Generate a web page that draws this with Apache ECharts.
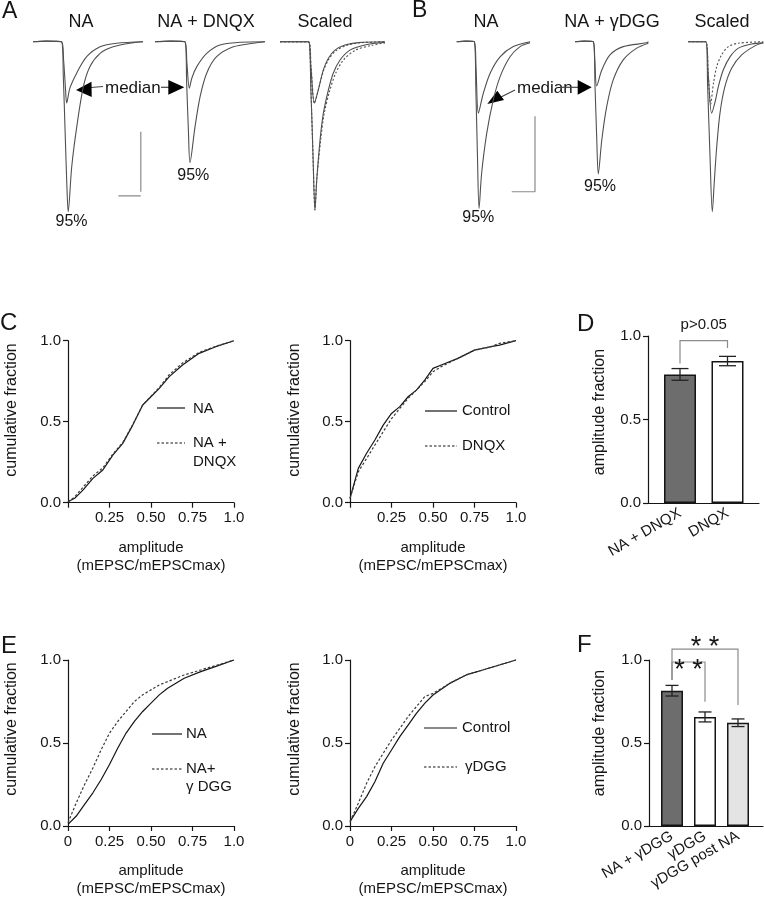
<!DOCTYPE html>
<html><head><meta charset="utf-8">
<script src="https://cdn.jsdelivr.net/npm/echarts/dist/echarts.min.js"></script>
<style>html,body{margin:0;padding:0;background:#fff}#chart{width:764px;height:899px}</style>
</head><body><div id="chart"></div>
<script>
// ---------------- DATA ----------------
// Panel A traces: [time (ms), current (pA)]
const A_NA_median = [[0,0],[6,0.2],[13,0],[13.9,-6],[14.8,-16],[15.3,-20.4],[16.8,-15.4],[19.9,-10.4],[24.4,-5.0],[30.5,-1.7],[38.0,-0.5],[50,0]];
const A_NA_95 = [[0,0],[6,0.2],[13,0],[13.8,-12],[14.6,-30],[15.4,-48],[16.0,-56.7],[17.6,-41.7],[19.9,-28.3],[22.9,-15],[25.9,-8.3],[30.5,-3.9],[36.4,-1.7],[45.5,-0.3],[50,0]];
const A_DNQX_median = [[0,0],[7,0.2],[13.6,0],[14.5,-7],[15.6,-15.5],[16.8,-12],[19.0,-8.3],[23.5,-3.9],[29.5,-1.1],[38.6,-0.2],[50,0]];
const A_DNQX_95 = [[0,0],[7,0.2],[13.6,0],[14.4,-14],[15.2,-30],[15.9,-40.3],[18.2,-28.3],[20.5,-18.3],[23.5,-10.5],[28,-5],[35.6,-1.7],[44.7,-0.5],[50,0]];
const A_SC_NA_median = [[0,0],[12.9,0],[14.0,-8],[15.6,-20.5],[17.4,-16.1],[19.7,-9.4],[22,-5.5],[25,-2.8],[29.5,-1.1],[35.6,-0.3],[47.7,0]];
const A_SC_NA_95 = [[0,0],[12.9,0],[14.0,-15],[15.0,-38],[15.9,-56.1],[16.7,-46.1],[18.2,-32.8],[19.7,-23.9],[22,-16.1],[24.2,-10.5],[27.3,-6.1],[31.8,-2.8],[38.6,-1.1],[47.7,-0.2]];
const A_SC_DNQX_median = [[0,0],[13.0,0],[14.1,-8],[15.7,-20.5],[17.5,-15.8],[19.8,-9.6],[22.2,-5.8],[25.3,-3.1],[30,-1.3],[36,-0.4],[47.7,0]];
const A_SC_DNQX_95 = [[0,0],[13.0,0],[14.0,-15],[15.0,-38],[15.9,-56.1],[16.7,-46.1],[18.5,-32.8],[20.1,-23.9],[22.7,-16.1],[25.3,-10.5],[28.8,-6.1],[34.1,-2.9],[41.7,-1.2],[47.7,-0.4]];
const A_scaleBar = [[38.8,-51.4],[49.0,-51.4],[null,null],[49.0,-50],[49.0,-30]]; // 10 ms, 20 pA

// Panel B traces
const B_NA_median = [[0,0],[4,0.15],[7.55,0],[8.3,-7],[9.3,-18.9],[11.4,-13.7],[14.3,-8.4],[18.6,-4.0],[24.3,-1.3],[31.5,0]];
const B_NA_95 = [[0,0],[4,0.15],[7.55,0],[8.2,-12],[8.9,-30],[9.6,-44.1],[10.7,-34.8],[12.9,-24.2],[15.7,-15.4],[18.6,-9.3],[22.9,-4.0],[27.2,-1.3],[31.5,-0.3]];
const B_DGG_median = [[0,0],[4,0.15],[7.85,0],[8.5,-5],[9.3,-11.7],[11.5,-7.5],[15,-3.5],[20.7,-1.3],[30.8,-0.3],[31.5,0]];
const B_DGG_95 = [[0,0],[4,0.15],[7.85,0],[8.6,-12],[9.3,-25],[10.0,-35],[11.5,-26],[13.6,-17.2],[16.4,-10.1],[20.7,-4.8],[26.5,-1.7],[31.5,-0.4]];
const B_SC_NA_median = [[0,0],[7.5,0],[8.5,-8],[10.0,-18.9],[11.5,-15.9],[12.9,-11.9],[15.0,-7.5],[17.9,-4.0],[21.5,-1.7],[27.2,-0.6],[32.2,-0.3]];
const B_SC_NA_95 = [[0,0],[7.5,0],[8.3,-12],[9.3,-30],[10.3,-45],[11.2,-36.6],[12.2,-27.8],[13.6,-18.9],[15.7,-11.9],[18.6,-7.0],[22.9,-3.5],[28.6,-1.1],[32.2,-0.3]];
const B_SC_DGG_median = [[0,0],[7.5,0],[8.5,-8],[9.6,-16.5],[10.8,-11],[12.2,-6.6],[14.3,-3.5],[17.2,-1.3],[21.5,-0.4],[32.2,0]];
const B_scaleBar = [[23.6,-39.7],[33.6,-39.7],[33.6,-19.7]];

// Panel C cumulative curves
const C1_x = [0,0.04,0.09,0.15,0.21,0.27,0.33,0.39,0.45,0.51,0.55,0.61,0.69,0.79,0.89,1.0];
const C1_NA = [0.006,0.027,0.078,0.150,0.202,0.294,0.366,0.479,0.603,0.665,0.706,0.778,0.850,0.922,0.963,1.0];
const C1_NA_DNQX = [0.006,0.035,0.095,0.165,0.215,0.300,0.372,0.482,0.603,0.668,0.712,0.790,0.862,0.928,0.965,1.0];
const C2_x = [0,0.05,0.10,0.15,0.20,0.25,0.30,0.35,0.40,0.45,0.50,0.55,0.65,0.75,0.85,0.90,1.0];
const C2_Control = [0.027,0.212,0.305,0.387,0.479,0.551,0.593,0.654,0.695,0.757,0.829,0.850,0.891,0.942,0.963,0.973,1.0];
const C2_DNQX = [0.027,0.191,0.273,0.356,0.438,0.519,0.582,0.644,0.695,0.747,0.809,0.840,0.891,0.942,0.963,0.984,1.0];

// Panel D bars
const D_categories = ['NA + DNQX','DNQX'];
const D_means = [0.77,0.85];
const D_errors = [0.035,0.028];
const D_brackets = [[0,1,0.972,0.836,0.928,1.066]]; // from, to, top, left end, right end, label centre
const D_bracketLabels = ['p>0.05'];

// Panel E cumulative curves
const E1_x = [0,0.05,0.10,0.15,0.20,0.25,0.30,0.35,0.40,0.45,0.50,0.55,0.60,0.70,0.80,0.90,1.0];
const E1_NA = [0.01,0.06,0.13,0.20,0.28,0.37,0.47,0.56,0.63,0.69,0.74,0.79,0.83,0.89,0.93,0.965,1.0];
const E1_NA_DGG = [0.02,0.14,0.25,0.35,0.46,0.56,0.63,0.69,0.75,0.79,0.82,0.85,0.87,0.91,0.94,0.97,1.0];
const E2_x = [0,0.05,0.10,0.15,0.20,0.25,0.30,0.35,0.40,0.45,0.50,0.60,0.70,0.80,0.90,1.0];
const E2_Control = [0.026,0.106,0.177,0.267,0.378,0.458,0.538,0.608,0.679,0.739,0.789,0.859,0.910,0.940,0.970,1.0];
const E2_DGG = [0.026,0.137,0.257,0.357,0.438,0.518,0.588,0.659,0.719,0.779,0.799,0.859,0.910,0.940,0.970,1.0];

// Panel F bars
const F_categories = ['NA + \u03b3DGG','\u03b3DGG','\u03b3DGG post NA'];
const F_means = [0.815,0.657,0.622];
const F_errors = [0.032,0.030,0.023];
const F_brackets = [[0,2,1.066,0.88,0.729,1.114],[0,1,0.988,0.88,0.749,0.975]];
const F_bracketLabels = ['* *','* *'];

// ---------------- BUILD ----------------
const FONT = '"Liberation Sans", Arial, Helvetica, sans-serif';
const INK = '#151515';
const grids = [], xAxes = [], yAxes = [], series = [];
function addGrid(g, xa, ya) {
  grids.push(Object.assign({outerBoundsMode:'none', containLabel:false}, g));
  const i = grids.length - 1;
  xAxes.push(Object.assign({gridIndex:i}, xa));
  yAxes.push(Object.assign({gridIndex:i}, ya));
  return i;
}
function traceGrid(left, top, tMax, aMin, pxMs, pxPa, traces) {
  const i = addGrid({left, top, width:tMax*pxMs, height:-aMin*pxPa},
    {type:'value', min:0, max:tMax, show:false}, {type:'value', min:aMin, max:0, show:false});
  traces.forEach(tr => series.push({type:'line', xAxisIndex:i, yAxisIndex:i, data:tr.d, symbol:'none',
    smooth:tr.bar ? false : 0.3, connectNulls:false, clip:false, silent:true, z: tr.dash ? 3 : 2,
    lineStyle:{color: tr.bar ? '#8a8a8a' : '#505050', width: tr.bar ? 1.2 : 1.1, type: tr.dash ? [2,2] : 'solid'}}));
}
traceGrid(33, 41.7, 50, -60, 2.2, 3, [{d:A_NA_median},{d:A_NA_95},{d:A_scaleBar, bar:true}]);
traceGrid(155, 41.7, 50, -60, 2.2, 3, [{d:A_DNQX_median},{d:A_DNQX_95}]);
traceGrid(280, 41.7, 50, -60, 2.2, 3, [{d:A_SC_NA_median},{d:A_SC_NA_95},{d:A_SC_DNQX_median, dash:true},{d:A_SC_DNQX_95, dash:true}]);
traceGrid(456.7, 41.7, 35, -50, 2.33, 3.78, [{d:B_NA_median},{d:B_NA_95},{d:B_scaleBar, bar:true}]);
traceGrid(575, 41.7, 35, -50, 2.33, 3.78, [{d:B_DGG_median},{d:B_DGG_95}]);
traceGrid(688.3, 41.7, 35, -50, 2.33, 3.78, [{d:B_SC_NA_median},{d:B_SC_NA_95},{d:B_SC_DGG_median, dash:true}]);

const axisLine = {show:true, onZero:false, lineStyle:{color:INK, width:1.2}};
const axisTick = {show:true, length:5, inside:false, lineStyle:{color:INK, width:1.2}};
const fmtY = v => v.toFixed(1);
function cdfGrid(left, top, w, h, showZero, xs, curves) {
  const i = addGrid({left, top, width:w, height:h},
    {type:'value', min:0, max:1, interval:0.25, axisLine, axisTick, splitLine:{show:false},
     axisLabel:{fontFamily:FONT, fontSize:15, color:INK, margin:8,
       formatter: v => v === 0 ? (showZero ? '0' : '') : (v === 1 ? '1.0' : v.toFixed(2))},
     name:'amplitude\n(mEPSC/mEPSCmax)', nameLocation:'middle', nameGap:36,
     nameTextStyle:{fontFamily:FONT, fontSize:15, color:INK, lineHeight:18}},
    {type:'value', min:0, max:1, interval:0.5, axisLine, axisTick, splitLine:{show:false},
     axisLabel:{fontFamily:FONT, fontSize:15, color:INK, margin:7, formatter:fmtY}});
  curves.forEach(c => series.push({type:'line', xAxisIndex:i, yAxisIndex:i, name:c.name,
    data: xs.map((x, k) => [x, c.d[k]]), symbol:'none', clip:false, silent:true, z: c.dash ? 3 : 2,
    lineStyle:{color: c.dash ? '#3a3a3a' : INK, width:1.2, type: c.dash ? [2.5,2] : 'solid'}}));
}
cdfGrid(68, 340.7, 166, 162, false, C1_x, [{d:C1_NA, name:'NA'},{d:C1_NA_DNQX, name:'NA + DNQX', dash:true}]);
cdfGrid(350, 340.7, 166, 162, false, C2_x, [{d:C2_Control, name:'Control'},{d:C2_DNQX, name:'DNQX', dash:true}]);
cdfGrid(68, 660, 166, 166, true, E1_x, [{d:E1_NA, name:'NA'},{d:E1_NA_DGG, name:'NA+ \u03b3 DGG', dash:true}]);
cdfGrid(350, 660, 166, 166, true, E2_x, [{d:E2_Control, name:'Control'},{d:E2_DGG, name:'\u03b3DGG', dash:true}]);

function barPanel(axisLeft, axisWidth, barsLeft, barsWidth, top, h, cats, means, errs, colors, barW, capW, brackets, bLabels, starFont) {
  addGrid({left:axisLeft, top, width:axisWidth, height:h},
    {type:'value', min:0, max:1, axisLine, axisTick:{show:false}, axisLabel:{show:false}, splitLine:{show:false}},
    {type:'value', min:0, max:1, interval:0.5, axisLine, axisTick, splitLine:{show:false},
     axisLabel:{fontFamily:FONT, fontSize:15, color:INK, margin:7, formatter:fmtY}});
  const i = addGrid({left:barsLeft, top, width:barsWidth, height:h},
    {type:'category', data:cats, axisLine:{show:false}, axisTick:{show:false},
     axisLabel:{interval:0, rotate:30, fontFamily:FONT, fontSize:15, color:INK, margin:9}},
    {type:'value', min:0, max:1, show:false});
  series.push({type:'bar', xAxisIndex:i, yAxisIndex:i, data:means, barWidth:barW, silent:true,
    itemStyle:{color: p => colors[p.dataIndex], borderColor:INK, borderWidth:1.5}});
  series.push({type:'custom', xAxisIndex:i, yAxisIndex:i, silent:true, z:5,
    data: means.map((m, k) => [k, m, errs[k]]),
    renderItem: (params, api) => {
      const x = api.value(0), m = api.value(1), e = api.value(2);
      const t = api.coord([x, m + e]), b = api.coord([x, m - e]);
      const st = {stroke:'#222', lineWidth:1.3};
      return {type:'group', children:[
        {type:'line', shape:{x1:t[0], y1:t[1], x2:b[0], y2:b[1]}, style:st},
        {type:'line', shape:{x1:t[0]-capW/2, y1:t[1], x2:t[0]+capW/2, y2:t[1]}, style:st},
        {type:'line', shape:{x1:b[0]-capW/2, y1:b[1], x2:b[0]+capW/2, y2:b[1]}, style:st}]};
    }});
  series.push({type:'custom', xAxisIndex:i, yAxisIndex:i, silent:true, z:6, clip:false,
    data: brackets,
    renderItem: (params, api) => {
      const a = api.value(0), c = api.value(1), top = api.value(2), le = api.value(3), re = api.value(4), ly = api.value(5);
      const p1 = api.coord([a, le]), p2 = api.coord([a, top]), p3 = api.coord([c, top]), p4 = api.coord([c, re]);
      const lp = api.coord([(a + c) / 2, ly]);
      const lbl = bLabels[params.dataIndex];
      const isStar = lbl.indexOf('*') >= 0;
      return {type:'group', children:[
        {type:'polyline', shape:{points:[p1,p2,p3,p4]}, style:{stroke:'#8c8c8c', lineWidth:1.2, fill:null}},
        {type:'text', x:(p2[0]+p3[0])/2, y: isStar ? lp[1] + starFont*0.23 : lp[1],
         style:{text:lbl, fontFamily:FONT, fontSize: isStar ? starFont : 15, fill:INK, align:'center', verticalAlign:'middle'}}]};
    }});
}
barPanel(648, 111, 656.25, 95, 336, 167, D_categories, D_means, D_errors, ['#6d6d6d','#ffffff'], 32, 17, D_brackets, D_bracketLabels, 26);
barPanel(649, 114, 655.5, 99, 660, 166, F_categories, F_means, F_errors, ['#6d6d6d','#ffffff','#e4e4e4'], 22, 13, F_brackets, F_bracketLabels, 27);

// ---------------- ANNOTATIONS ----------------
function T(text, x, y, size, align, rot) {
  return {type:'text', x, y, rotation: rot || 0, silent:true,
    style:{text, fontFamily:FONT, fontSize:size, fill:INK, align:align || 'center', verticalAlign:'middle'}};
}
function Ln(x1, y1, x2, y2, dash, color) {
  return {type:'line', silent:true, shape:{x1,y1,x2,y2}, style:{stroke:color || INK, lineWidth:1.2, lineDash: dash ? [2.5,2] : null}};
}
function Tri(pts) { return {type:'polygon', silent:true, shape:{points:pts}, style:{fill:'#000'}}; }
const R = Math.PI / 2;
const graphic = [
  T('A', 2, 12, 23, 'left'), T('B', 412, 11, 23, 'left'),
  T('C', 0, 323, 24, 'left'), T('D', 577, 324, 24, 'left'),
  T('E', 1, 646, 24, 'left'), T('F', 577, 645, 24, 'left'),
  T('NA', 81, 22, 18), T('NA + DNQX', 206, 22, 18), T('Scaled', 325, 22, 18),
  T('NA', 486, 22, 18), T('NA + \u03b3DGG', 612, 22, 18), T('Scaled', 722, 22, 18),
  T('median', 105, 88, 17, 'left'), T('median', 517, 88, 17, 'left'),
  Ln(91, 87.5, 103, 86.5, false, '#444'), Tri([[76,90],[91.5,81.7],[91.7,97]]),
  Ln(161, 87.3, 169, 87.3, false, '#444'), Tri([[168.3,80],[184.3,87.3],[168.3,94.7]]),
  Ln(515, 90, 501, 97, false, '#444'), Tri([[487.3,104],[497.3,90.7],[504,100]]),
  Ln(560, 87.3, 578, 87.3, false, '#444'), Tri([[577.7,80],[591.7,87.3],[577.7,94.7]]),
  T('95%', 71.5, 222, 16), T('95%', 193.3, 176, 16), T('95%', 478.3, 218, 16), T('95%', 600, 187, 16),
  // axis titles (vertical)
  T('cumulative fraction', 12, 410, 16, 'center', R), T('cumulative fraction', 295, 410, 16, 'center', R),
  T('cumulative fraction', 12, 729, 16, 'center', R), T('cumulative fraction', 295, 729, 16, 'center', R),
  T('amplitude fraction', 600, 412, 16, 'center', R), T('amplitude fraction', 600, 733, 16, 'center', R),
  // legends C
  Ln(157, 408, 185, 408), T('NA', 193, 408.5, 15, 'left'),
  Ln(157, 443, 185, 443, true), T('NA +', 193, 443, 15, 'left'), T('DNQX', 193, 462, 15, 'left'),
  Ln(425, 411, 457, 411), T('Control', 462, 411, 15, 'left'),
  Ln(425, 446, 457, 446, true), T('DNQX', 462, 446, 15, 'left'),
  // legends E
  Ln(152, 734, 182, 734), T('NA', 186, 734, 15, 'left'),
  Ln(152, 769, 182, 769, true), T('NA+', 186, 769, 15, 'left'), T('\u03b3 DGG', 186, 787, 15, 'left'),
  Ln(424, 728, 457, 728), T('Control', 462, 728, 15, 'left'),
  Ln(424, 767, 457, 767, true), T('\u03b3DGG', 465, 767, 15, 'left')
];

const chart = echarts.init(document.getElementById('chart'), null, {renderer:'canvas'});
chart.setOption({animation:false, backgroundColor:'#fff', textStyle:{fontFamily:FONT},
  grid:grids, xAxis:xAxes, yAxis:yAxes, series, graphic});
</script></body></html>
